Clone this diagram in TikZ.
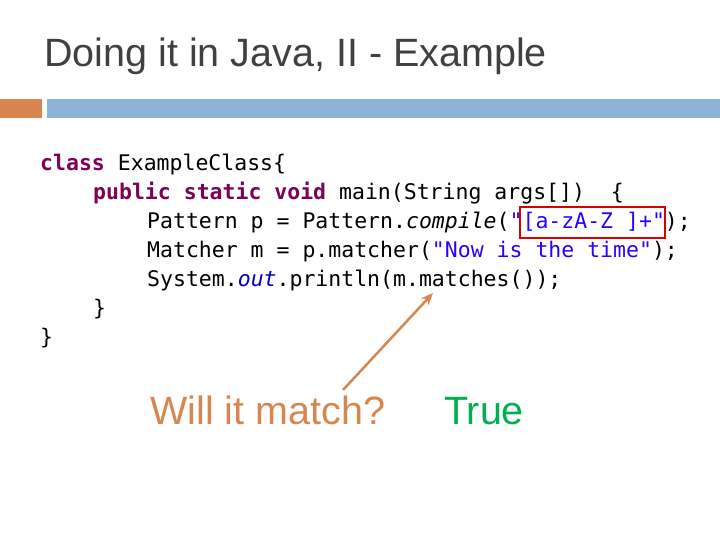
\documentclass[tikz,border=0pt]{standalone}
\usepackage{fontspec}
\usetikzlibrary{arrows.meta}
\setmainfont{Liberation Sans}
\newfontfamily\codefont{DejaVu Sans Mono}
\definecolor{kw}{HTML}{7F0055}
\definecolor{str}{HTML}{2A00FF}
\definecolor{fld}{HTML}{0000C0}
\definecolor{orng}{HTML}{D9854F}
\definecolor{blu}{HTML}{8DB3D6}
\definecolor{grn}{HTML}{00B050}
\begin{document}
\begin{tikzpicture}[x=1pt,y=-1pt,
  code/.style={anchor=base west,inner sep=0,font=\codefont\fontsize{21.5}{21.5}\selectfont},
  big/.style={anchor=base west,inner sep=0,font=\fontsize{39.5}{39.5}\selectfont}]
\useasboundingbox (0,0) rectangle (720,540);
\node[big,text=black!75] (title) at (44,67) {Doing it in Java, II - Example};
\fill[orng] (0,99) rectangle (42,118);
\fill[blu] (47,99) rectangle (720,118);
\newcommand\kw[1]{\textcolor{kw}{\textbf{#1}}}
\newcommand\st[1]{\textcolor{str}{#1}}
\node[code] (l1) at (40,171) {\kw{class} ExampleClass\{};
\node[code] (l2) at (93,200) {\kw{public} \kw{static} \kw{void} main(String args[])\ \ \{};
\node[code] (l3) at (147,229) {Pattern p = Pattern.\textit{compile}(\st{"[a-zA-Z ]+"});};
\node[code] (l4) at (147,258) {Matcher m = p.matcher(\st{"Now is the time"});};
\node[code] (l5) at (147,286) {System.\textcolor{fld}{\textit{out}}.println(m.matches());};
\node[code] (l6) at (93,315) {\}};
\node[code] (l7) at (40,344) {\}};
\draw[red!85!black,line width=2.5] (520,207) rectangle (665,238);
\node[big,text=orng] (q) at (150,424) {Will it match?};
\node[big,text=grn] (a) at (444,424) {True};
\coordinate (tip) at (433,293);
\draw[orng,line width=2.5,-{Stealth[length=12,width=10]}] (343,390) -- (tip);
\end{tikzpicture}
\end{document}
